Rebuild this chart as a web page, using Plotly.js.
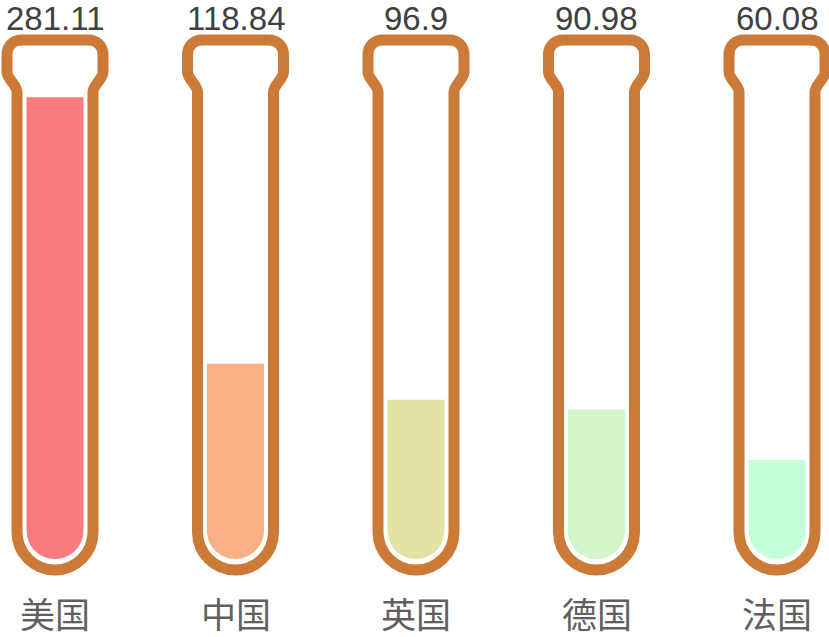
<!DOCTYPE html>
<html>
<head>
<meta charset="utf-8">
<script src="https://cdn.plot.ly/plotly-3.0.1.min.js"></script>
<style>html,body{margin:0;padding:0;background:#fff;}#chart{width:829px;height:637px;}</style>
</head>
<body>
<div id="chart"></div>
<script>
// Data
var categories = ['美国', '中国', '英国', '德国', '法国'];
var values = [281.11, 118.84, 96.9, 90.98, 60.08];
var valueLabels = ['281.11', '118.84', '96.9', '90.98', '60.08'];
var barColors = ['#f87c7e', '#f8b084', '#e3e4a4', '#d3f5c8', '#c4fed8'];

var W = 829, H = 637;
var tubeColor = '#cc7a37';
var idx = categories.map(function (c, i) { return i; });

// x: center of first tube at 55px, spacing 180.5px
var spacing = 180.5, firstX = 55;
var xr0 = -firstX / spacing, xr1 = xr0 + W / spacing;
// y: zero at 559px, 1.643 px per unit
var zeroPx = 559, ppu = 1.643;
var yr1 = zeroPx / ppu, yr0 = -(H - zeroPx) / ppu;

var bars = {
  type: 'bar',
  x: idx,
  y: values,
  width: 57 / spacing,
  marker: { color: barColors, line: { width: 0 } },
  hoverinfo: 'skip',
  showlegend: false
};

// Tube outline path (pixel offsets from anchor at category center / y=0, y up)
var tubePath = 'M -38,27 L -38,467 C -38,474 -48,480 -48,487 L -48,504 ' +
  'C -48,513 -42,519 -33,519 L 33,519 C 42,519 48,513 48,504 L 48,487 ' +
  'C 48,480 38,474 38,467 L 38,27 C 38,6 21,-11 0,-11 C -21,-11 -38,6 -38,27 Z';

// white mask rounding the bottom of the liquid into a semicircle
var r = 28.5, k = 0.5523 * r;
var maskPath = 'M -31,' + r + ' L -' + r + ',' + r +
  ' C -' + r + ',' + (r - k) + ' -' + k + ',0 0,0' +
  ' C ' + k + ',0 ' + r + ',' + (r - k) + ' ' + r + ',' + r +
  ' L 31,' + r + ' L 31,-3 L -31,-3 Z';

var shapes = [];
idx.forEach(function (i) {
  shapes.push({
    type: 'path', layer: 'above',
    xref: 'x', xsizemode: 'pixel', xanchor: i,
    yref: 'y', ysizemode: 'pixel', yanchor: 0,
    path: maskPath,
    line: { width: 0 },
    fillcolor: '#ffffff'
  });
});
idx.forEach(function (i) {
  shapes.push({
    type: 'path', layer: 'above',
    xref: 'x', xsizemode: 'pixel', xanchor: i,
    yref: 'y', ysizemode: 'pixel', yanchor: 0,
    path: tubePath,
    line: { color: tubeColor, width: 11 },
    fillcolor: 'rgba(0,0,0,0)'
  });
});

var annotations = [];
idx.forEach(function (i) {
  annotations.push({
    x: i, xref: 'x', y: 1 - 19 / H, yref: 'paper', yanchor: 'middle', xanchor: 'center',
    text: valueLabels[i], showarrow: false,
    font: { family: 'Liberation Sans Narrow, Arial Narrow, Liberation Sans, sans-serif', size: 33, color: '#404040' }
  });
  annotations.push({
    x: i, xref: 'x', y: 1 - 612 / H, yref: 'paper', yanchor: 'middle', xanchor: 'center',
    text: categories[i], showarrow: false,
    font: { family: 'Noto Sans CJK SC, sans-serif', size: 35, color: '#606060' }
  });
});

var layout = {
  width: W, height: H,
  margin: { l: 0, r: 0, t: 0, b: 0, pad: 0 },
  paper_bgcolor: '#ffffff', plot_bgcolor: '#ffffff',
  xaxis: { range: [xr0, xr1], showgrid: false, zeroline: false, showticklabels: false, ticks: '', showline: false, fixedrange: true },
  yaxis: { range: [yr0, yr1], showgrid: false, zeroline: false, showticklabels: false, ticks: '', showline: false, fixedrange: true },
  shapes: shapes,
  annotations: annotations,
  showlegend: false
};

Plotly.newPlot('chart', [bars], layout, { displayModeBar: false, staticPlot: true });
</script>
</body>
</html>
